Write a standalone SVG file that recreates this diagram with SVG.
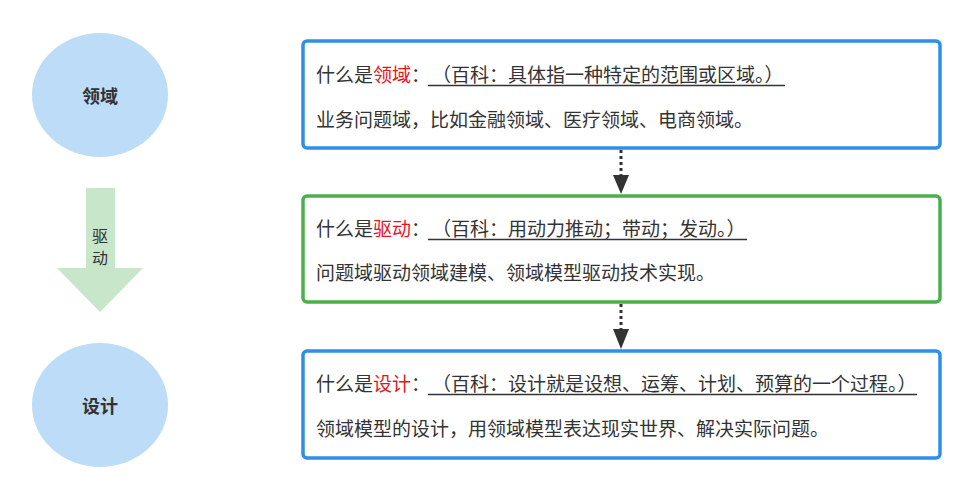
<svg xmlns="http://www.w3.org/2000/svg" width="973" height="500" viewBox="0 0 973 500">
<style>
.circle{fill:#bddcf7;}
.ctext{font-family:"Noto Sans CJK SC","Noto Sans",sans-serif;font-size:18px;font-weight:bold;fill:#333;text-anchor:middle;dominant-baseline:central;}
.box{fill:#fff;stroke-width:3.5;}
.blue{stroke:#2f8fe8;}
.green{stroke:#4cae4c;}
.t{font-family:"Noto Sans CJK SC","Noto Sans",sans-serif;font-size:19px;fill:#333;}
.s{font-family:"Noto Sans CJK SC","Noto Sans",sans-serif;font-size:16px;fill:#333;text-anchor:middle;}
.red{fill:#e8141b;}
.ul{stroke:#333;stroke-width:1.3;}
.conn{stroke:#333;stroke-width:3;stroke-dasharray:3 3;fill:none;}
.ahead{fill:#333;}
</style>
<g id="node-domain">
<ellipse class="circle" cx="100" cy="95" rx="68" ry="62"/>
<text class="ctext" x="100" y="95">领域</text>
</g>
<g id="node-drive-arrow">
<path d="M86,188H115V268H143L100,312L57,268H86Z" fill="#c8e6c9"/>
<text class="s" x="100" y="242">驱</text>
<text class="s" x="100" y="264">动</text>
</g>
<g id="node-design">
<ellipse class="circle" cx="100" cy="405" rx="68" ry="62"/>
<text class="ctext" x="100" y="405">设计</text>
</g>
<g id="box-domain">
<rect class="box blue" x="303" y="41" width="637" height="107" rx="4"/>
<text class="t" x="316" y="82">什么是<tspan class="red">领域</tspan>：</text>
<text class="t" x="432" y="82">（百科：具体指一种特定的范围或区域。）</text>
<line class="ul" x1="428" y1="85.5" x2="785" y2="85.5"/>
<text class="t" x="316" y="127">业务问题域，比如金融领域、医疗领域、电商领域。</text>
</g>
<g id="box-drive">
<rect class="box green" x="303" y="196" width="637" height="106" rx="4"/>
<text class="t" x="316" y="236">什么是<tspan class="red">驱动</tspan>：</text>
<text class="t" x="432" y="236">（百科：用动力推动；带动；发动。）</text>
<line class="ul" x1="428" y1="239.5" x2="747" y2="239.5"/>
<text class="t" x="316" y="280">问题域驱动领域建模、领域模型驱动技术实现。</text>
</g>
<g id="box-design">
<rect class="box blue" x="303" y="351" width="637" height="107" rx="4"/>
<text class="t" x="316" y="391">什么是<tspan class="red">设计</tspan>：</text>
<text class="t" x="432" y="391">（百科：设计就是设想、运筹、计划、预算的一个过程。）</text>
<line class="ul" x1="428" y1="394.5" x2="917" y2="394.5"/>
<text class="t" x="316" y="436">领域模型的设计，用领域模型表达现实世界、解决实际问题。</text>
</g>
<g id="connectors">
<line class="conn" x1="621" y1="150" x2="621" y2="176"/>
<path class="ahead" d="M613,175H629L621,194Z"/>
<line class="conn" x1="621" y1="304" x2="621" y2="330"/>
<path class="ahead" d="M613,329H629L621,349Z"/>
</g>
</svg>
